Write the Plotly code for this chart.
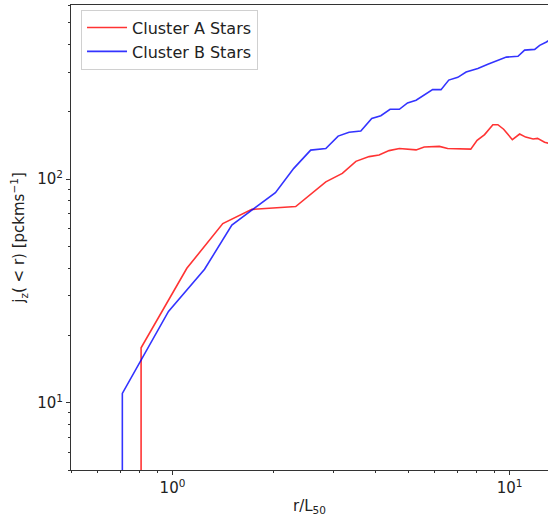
import plotly.graph_objects as go

# Cluster A (red)
r_a = [0.807, 0.807, 1.103, 1.41, 1.72, 2.32, 2.85, 3.19, 3.50, 3.83, 4.10, 4.39, 4.71,
       5.28, 5.58, 6.19, 6.55, 7.10, 7.67, 8.01, 8.43, 8.92, 9.23, 9.60, 10.19, 10.71,
       11.16, 11.74, 12.1, 12.7, 13.2]
j_a = [1, 17.6, 39.9, 63.2, 73.2, 75.3, 97.2, 106, 120, 126, 128, 134, 137,
       135, 139, 140, 137, 136, 136, 149, 158, 175, 175, 167, 150, 159,
       154, 151, 152, 146, 144]

# Cluster B (blue)
r_b = [0.71, 0.71, 0.973, 1.245, 1.50, 2.02, 2.29, 2.57, 2.85, 3.10, 3.34, 3.62, 3.90,
       4.15, 4.42, 4.71, 4.98, 5.28, 5.91, 6.26, 6.60, 7.02, 7.43, 8.05, 8.62, 9.34,
       9.78, 10.59, 11.08, 11.87, 12.28, 12.86, 13.2]
j_b = [1, 11, 25.6, 39.5, 62.3, 86.9, 111.6, 134.7, 137, 155.6, 162, 164, 186.6,
       192, 205, 205, 219, 225, 251, 251, 277, 285, 301, 312, 326, 340,
       351, 354, 377, 380, 396, 410, 420]

x_ticks = [1, 10]
x_ticktext = ["10<sup>0</sup>", "10<sup>1</sup>"]
y_ticks = [10, 100]
y_ticktext = ["10<sup>1</sup>", "10<sup>2</sup>"]
x_minor = [0.5, 0.6, 0.7, 0.8, 0.9, 2, 3, 4, 5, 6, 7, 8, 9]
y_minor = [5, 6, 7, 8, 9, 20, 30, 40, 50, 60, 70, 80, 90, 200, 300, 400, 500, 600]

FONT = "DejaVu Sans"

fig = go.Figure()
fig.add_trace(go.Scatter(x=r_a, y=j_a, mode="lines", name="Cluster A Stars",
                         line=dict(color="rgba(255,0,0,0.8)", width=1.6)))
fig.add_trace(go.Scatter(x=r_b, y=j_b, mode="lines", name="Cluster B Stars",
                         line=dict(color="rgba(0,0,255,0.8)", width=1.6)))

axis_common = dict(showgrid=False, zeroline=False, showline=True, linecolor="#333",
                   linewidth=1, ticks="outside", ticklen=4, tickcolor="#333",
                   automargin=False,
                   tickfont=dict(family=FONT, size=15, color="#222"))

fig.update_layout(
    width=548, height=520,
    margin=dict(l=71, r=0, t=5, b=50),
    paper_bgcolor="white", plot_bgcolor="white",
    font=dict(family=FONT, color="#222"),
    showlegend=True,
    legend=dict(x=0.021, y=0.99, xanchor="left", yanchor="top",
                bgcolor="rgba(255,255,255,0.9)", bordercolor="#d0d0d0", borderwidth=1,
                font=dict(family=FONT, size=16, color="#222"), tracegroupgap=0,
                itemwidth=40),
    xaxis=dict(type="log", range=[-0.30103, 1.1139], mirror=True,
               tickvals=x_ticks, ticktext=x_ticktext,
               minor=dict(tickvals=x_minor, ticks="outside", ticklen=2, tickcolor="#333"),
               title=dict(text="r/L<sub>50</sub>", font=dict(family=FONT, size=15, color="#222"),
                          standoff=4),
               **axis_common),
    yaxis=dict(type="log", range=[0.69897, 2.7782], mirror=False,
               tickvals=y_ticks, ticktext=y_ticktext,
               minor=dict(tickvals=y_minor, ticks="outside", ticklen=2, tickcolor="#333"),
               title=dict(text="j<sub>z</sub>( < r) [pckms<sup>−1</sup>]",
                          font=dict(family=FONT, size=15, color="#222"), standoff=8),
               **axis_common),
)

fig.write_html("out.html", config={"displayModeBar": False},
               post_script="document.body.style.margin='0';")
